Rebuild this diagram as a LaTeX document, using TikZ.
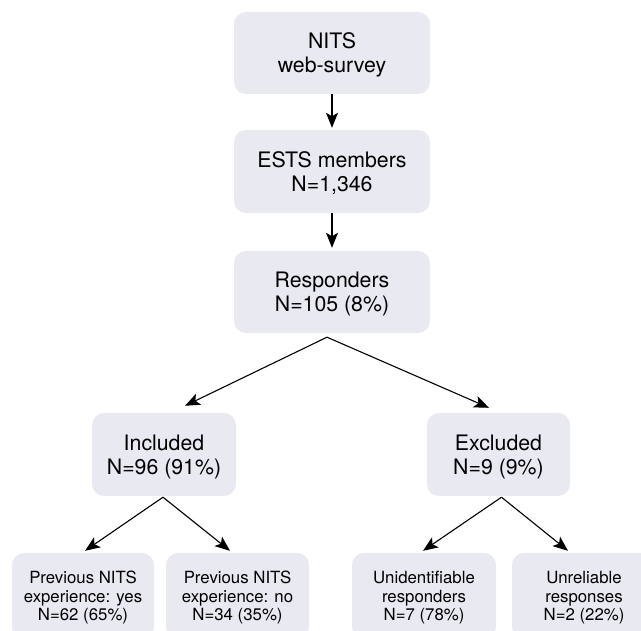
\documentclass[tikz,border=0pt]{standalone}
\usepackage{fontspec}
\setmainfont{TeX Gyre Heros}
\usetikzlibrary{arrows.meta,calc}
\definecolor{boxfill}{RGB}{233,233,241}
\tikzset{
  bigbox/.style={fill=boxfill, draw=none, rounded corners=12pt, inner sep=0pt,
    align=center, text depth=0pt, font=\fontsize{21.3}{24}\selectfont},
  smallbox/.style={fill=boxfill, draw=none, rounded corners=12pt, inner sep=0pt,
    align=center, text depth=0pt, font=\fontsize{16.8}{18.4}\selectfont,
    minimum height=86pt},
  arr/.style={-{Stealth[length=15pt,width=12pt,inset=3.5pt]}, line width=1.1pt, black}
}
\begin{document}
\begin{tikzpicture}[x=1pt,y=-1pt]
\useasboundingbox (0,0) rectangle (641,631);
\clip (0,0) rectangle (641,631);
\node[bigbox, minimum width=196pt, minimum height=82pt] (nits) at (332,53) {NITS\\web-survey};
\node[bigbox, minimum width=196pt, minimum height=83pt] (ests) at (332,171.5) {ESTS members\\N=1,346};
\node[bigbox, minimum width=196pt, minimum height=82pt] (resp) at (332,292) {Responders\\N=105 (8\%)};
\node[bigbox, minimum width=144pt, minimum height=83pt] (inc) at (164,454.5) {Included\\N=96 (91\%)};
\node[bigbox, minimum width=143pt, minimum height=83pt] (exc) at (498.5,454.5) {Excluded\\N=9 (9\%)};
\node[smallbox, minimum width=142pt] (yes) at (83,596) {Previous NITS\\experience: yes\\N=62 (65\%)};
\node[smallbox, minimum width=143pt] (no) at (237.5,596) {Previous NITS\\experience: no\\N=34 (35\%)};
\node[smallbox, minimum width=144pt] (unid) at (424,596) {Unidentifiable\\responders\\N=7 (78\%)};
\node[smallbox, minimum width=144pt] (unrel) at (584,596) {Unreliable\\responses\\N=2 (22\%)};
\coordinate (rs) at ($(resp.south)+(-5,4)$);
\coordinate (incs) at ($(inc.south)+(-1,1)$);
\coordinate (excs) at ($(exc.south)+(3,1)$);
\coordinate (inct) at ($(inc.north)+(21,-7)$);
\coordinate (exct) at ($(exc.north)+(-9.5,-5)$);
\coordinate (yest) at ($(yes.north)+(2,-2)$);
\coordinate (not) at ($(no.north)+(-7.5,-2)$);
\coordinate (unidt) at ($(unid.north)+(-1,-2)$);
\coordinate (unrelt) at ($(unrel.north)+(-16,-2)$);
\draw[arr] (nits.south) -- ($(ests.north)+(0,-2)$);
\draw[arr] (ests.south) -- ($(resp.north)+(0,-3)$);
\draw[arr] (rs) -- (inct);
\draw[arr] (rs) -- (exct);
\draw[arr] (incs) -- (yest);
\draw[arr] (incs) -- (not);
\draw[arr] (excs) -- (unidt);
\draw[arr] (excs) -- (unrelt);
\end{tikzpicture}
\end{document}
